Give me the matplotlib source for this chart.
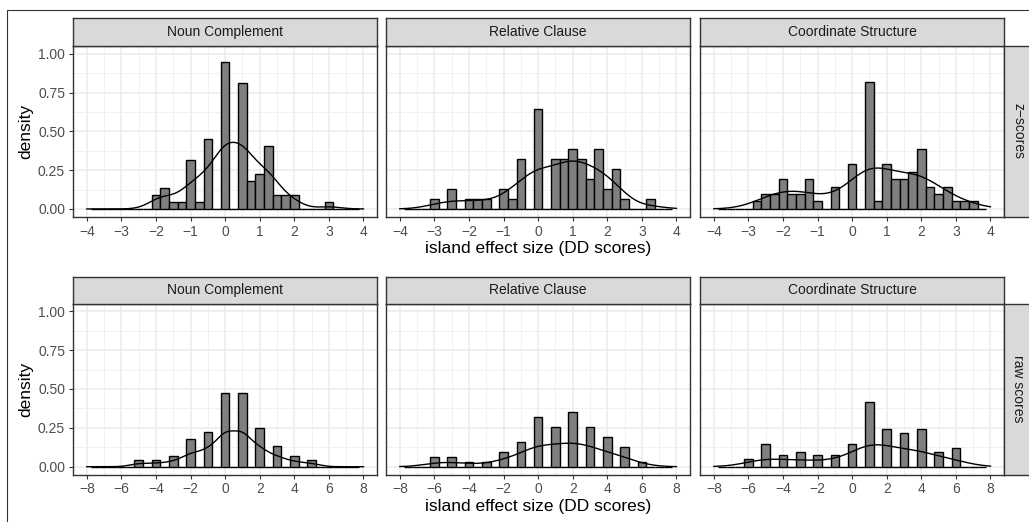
import numpy as np
import matplotlib
matplotlib.use("Agg")
import matplotlib.pyplot as plt
from matplotlib.patches import Rectangle

plt.rcParams['font.family'] = ['Liberation Sans', 'DejaVu Sans']

W, H = 1029, 522

structures = ["Noun Complement", "Relative Clause", "Coordinate Structure"]
rows = ["z\u2212scores", "raw scores"]

# bin centres with non-zero counts, and counts
nc_z_x = [-2.0, -1.75, -1.5, -1.25, -1.0, -0.75, -0.5, 0.0, 0.5, 0.75, 1.0, 1.25, 1.5, 1.75, 2.0, 3.0]
nc_z_n = [2, 3, 1, 1, 7, 1, 10, 21, 18, 4, 5, 9, 2, 2, 2, 1]

rc_z_x = [-3.0, -2.5, -2.0, -1.75, -1.5, -1.0, -0.75, -0.5, 0.0, 0.5, 0.75, 1.0, 1.25, 1.5, 1.75,
          2.0, 2.25, 2.5, 3.25]
rc_z_n = [1, 2, 1, 1, 1, 2, 1, 5, 10, 5, 5, 6, 5, 3, 6, 2, 4, 1, 1]

cs_z_x = [-2.75, -2.5, -2.25, -2.0, -1.75, -1.5, -1.25, -1.0, -0.5, 0.0, 0.5, 0.75, 1.0, 1.25, 1.5,
          1.75, 2.0, 2.25, 2.5, 2.75, 3.0, 3.25, 3.5]
cs_z_n = [1, 2, 2, 4, 2, 2, 4, 1, 3, 6, 17, 1, 6, 4, 4, 5, 8, 3, 2, 3, 1, 1, 1]

nc_raw_x = [-5, -4, -3, -2, -1, 0, 1, 2, 3, 4, 5]
nc_raw_n = [2, 2, 3, 8, 10, 21, 21, 11, 6, 3, 2]

rc_raw_x = [-6, -5, -4, -3, -2, -1, 0, 1, 2, 3, 4, 5, 6]
rc_raw_n = [2, 2, 1, 1, 3, 5, 10, 8, 11, 8, 6, 4, 1]

cs_raw_x = [-6, -5, -4, -3, -2, -1, 0, 1, 2, 3, 4, 5, 6]
cs_raw_n = [2, 6, 3, 4, 3, 3, 6, 17, 10, 9, 10, 4, 5]

data = [[(nc_z_x, nc_z_n), (rc_z_x, rc_z_n), (cs_z_x, cs_z_n)],
        [(nc_raw_x, nc_raw_n), (rc_raw_x, rc_raw_n), (cs_raw_x, cs_raw_n)]]

limits = [4, 8]
binwidth = [0.25, 0.5]


def kde(x, n, grid):
    # gaussian kernel, bw.nrd0 like ggplot's geom_density
    d = np.repeat(np.array(x, float), n)
    sd = d.std(ddof=1)
    q75, q25 = np.percentile(d, [75, 25])
    bw = 0.9 * min(sd, (q75 - q25) / 1.34) * len(d) ** -0.2
    z = (grid[:, None] - d[None, :]) / bw
    return np.exp(-0.5 * z ** 2).sum(1) / (len(d) * bw * np.sqrt(2 * np.pi))


def rect(l, t, r, b):
    return [l / W, 1 - b / H, (r - l) / W, (b - t) / H]


fig = plt.figure(figsize=(W / 100, H / 100), dpi=100)
fig.add_artist(Rectangle((7 / W, -0.2), 1.2, 1.2 - 10 / H, transform=fig.transFigure,
                         fill=False, edgecolor='#333333', lw=0.8))

cols = [(73, 377.3), (386, 690.3), (700, 1004.3)]
row_y = [(18.3, 46, 216.7), (276.7, 303.5, 474.5)]
xlab_y = [248, 507]

for r in range(2):
    st, pt, pb = row_y[r]
    lim = limits[r]
    bw = binwidth[r]
    centres = np.arange(-lim + bw, lim - bw / 2 + 1e-9, bw)
    grid = np.linspace(-lim, lim, 512)
    for c in range(3):
        l, rr = cols[c]
        ax = fig.add_axes(rect(l, pt, rr, pb))
        x, n = data[r][c]
        counts = np.zeros(len(centres))
        for xi, ni in zip(x, n):
            counts[np.argmin(np.abs(centres - xi))] = ni
        dens = counts / (sum(n) * bw)
        ax.bar(centres, dens, width=bw, color='#7F7F7F', edgecolor='black', lw=1.0, zorder=2)
        ax.plot(grid, kde(x, n, grid), color='black', lw=1.0, zorder=3)

        ax.set_xlim(-lim * 1.1, lim * 1.1)
        ax.set_ylim(-0.05, 1.05)
        step = lim / 4
        ax.set_xticks(np.arange(-lim, lim + 1e-9, step))
        ax.set_xticks(np.arange(-lim + step / 2, lim, step), minor=True)
        ax.set_yticks([0, 0.25, 0.5, 0.75, 1.0])
        ax.set_yticks([0.125, 0.375, 0.625, 0.875], minor=True)
        ax.set_xticklabels([f"{v:g}".replace('-', '\u2212') for v in np.arange(-lim, lim + 1e-9, step)])
        ax.grid(which='major', color='#EBEBEB', lw=1.1)
        ax.grid(which='minor', color='#EFEFEF', lw=0.6)
        ax.set_axisbelow(True)
        ax.tick_params(which='minor', length=0)
        ax.tick_params(which='major', length=3.2, width=0.8, color='#333333', pad=2.5,
                       labelsize=10, labelcolor='#4D4D4D')
        if c == 0:
            ax.set_yticklabels(["0.00", "0.25", "0.50", "0.75", "1.00"])
        else:
            ax.tick_params(axis='y', left=False, labelleft=False)
        for s in ax.spines.values():
            s.set_color('#333333')
            s.set_linewidth(1.0)

        sax = fig.add_axes(rect(l, st, rr, pt))
        sax.set_facecolor('#D9D9D9')
        sax.set_xticks([])
        sax.set_yticks([])
        for s in sax.spines.values():
            s.set_color('#333333')
            s.set_linewidth(1.0)
        sax.text(0.5, 0.5, structures[c], ha='center', va='center', fontsize=10,
                 color='#1A1A1A', transform=sax.transAxes)

    rax = fig.add_axes(rect(1004.3, pt, 1032, pb))
    rax.set_facecolor('#D9D9D9')
    rax.set_xticks([])
    rax.set_yticks([])
    for s in rax.spines.values():
        s.set_color('#333333')
        s.set_linewidth(1.0)
    rax.text(0.5, 0.5, rows[r], ha='center', va='center', fontsize=10, rotation=-90,
             color='#1A1A1A', transform=rax.transAxes)

    fig.text(26 / W, 1 - (pt + pb) / 2 / H, "density", rotation=90, ha='center', va='center',
             fontsize=12.5, color='black')
    fig.text((386 + 690.3) / 2 / W, 1 - xlab_y[r] / H, "island effect size (DD scores)",
             ha='center', va='center', fontsize=12.5, color='black')

fig.savefig("out.png", dpi=100)
